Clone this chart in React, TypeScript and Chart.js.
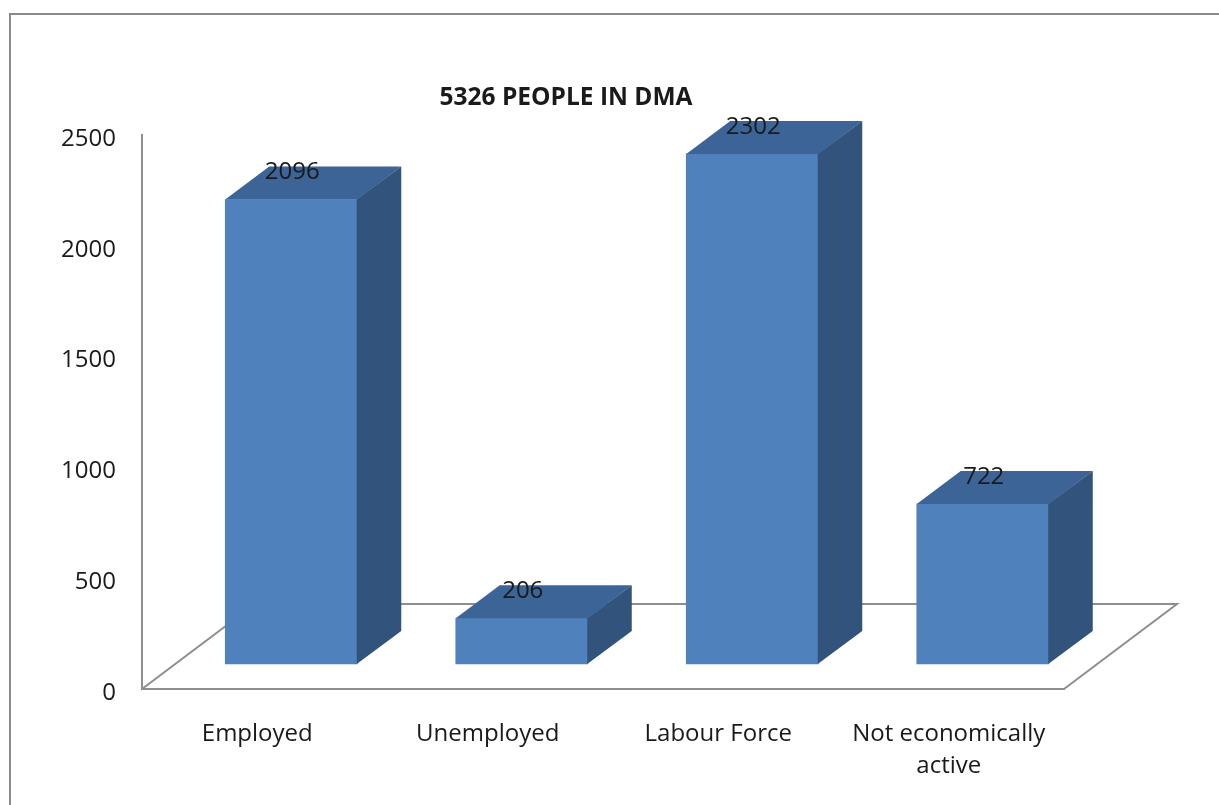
import React, { useEffect, useRef } from 'react';
import { Chart, registerables } from 'chart.js';

Chart.register(...registerables);

// ---- data ----
const categories: (string | string[])[] = ['Employed', 'Unemployed', 'Labour Force', ['Not economically', 'active']];
const values: number[] = [2096, 206, 2302, 722];
const yMin = 0;
const yMax = 2500;
const yStep = 500;
const titleText = '5326 PEOPLE IN DMA';

// ---- style / geometry ----
const W = 1219;
const H = 805;
const FONT = "'Open Sans', 'Liberation Sans', sans-serif";
const FRONT = '#4F81BD';
const TOP = '#3C6496';
const SIDE = '#31537C';
const LINE = '#8E8E8E';
const TEXT = '#1a1a1a';

const PLOT = { left: 142, right: 1064, top: 135, bottom: 689 };
const FLOOR_DEPTH = { dx: 113, dy: -85 };
const BAR_SHIFT = { dx: 34, dy: -25 };
const BAR_DEPTH = { dx: 44, dy: -33 };
const BAR_WIDTH = 132;
const PAD_LEFT = 50;
const RIGHT_SPACER = 18;
const Y_AXIS_W = PLOT.left - PAD_LEFT;
const X_AXIS_H = 92;

const catCount = categories.length;
const pxPerCat = (PLOT.right - PLOT.left) / catCount;
const pxPerUnit = (PLOT.bottom - PLOT.top) / (yMax - yMin);
const xbMin = -0.5 - BAR_SHIFT.dx / pxPerCat;
const xbMax = xbMin + catCount;
const ybMin = yMin + BAR_SHIFT.dy / pxPerUnit;
const ybMax = ybMin + (yMax - yMin);

function poly(ctx: CanvasRenderingContext2D, pts: number[][], color: string) {
  ctx.beginPath();
  ctx.moveTo(pts[0][0], pts[0][1]);
  for (let i = 1; i < pts.length; i++) ctx.lineTo(pts[i][0], pts[i][1]);
  ctx.closePath();
  ctx.fillStyle = color;
  ctx.fill();
}

const frame3d = {
  id: 'frame3d',
  beforeDraw(chart: any) {
    const ctx = chart.ctx as CanvasRenderingContext2D;
    ctx.save();
    ctx.strokeStyle = '#8A8A8A';
    ctx.lineWidth = 2;
    ctx.beginPath();
    ctx.moveTo(10, chart.height + 10);
    ctx.lineTo(10, 14);
    ctx.lineTo(chart.width + 10, 14);
    ctx.stroke();
    ctx.restore();
  },
  beforeDatasetsDraw(chart: any) {
    const ctx = chart.ctx as CanvasRenderingContext2D;
    const a = chart.chartArea;
    ctx.save();
    ctx.strokeStyle = LINE;
    ctx.lineWidth = 2;
    ctx.beginPath();
    ctx.moveTo(a.left, a.bottom);
    ctx.lineTo(a.left + FLOOR_DEPTH.dx, a.bottom + FLOOR_DEPTH.dy);
    ctx.lineTo(a.right + FLOOR_DEPTH.dx, a.bottom + FLOOR_DEPTH.dy);
    ctx.lineTo(a.right, a.bottom);
    ctx.stroke();
    ctx.restore();
  },
  afterDatasetsDraw(chart: any) {
    const ctx = chart.ctx as CanvasRenderingContext2D;
    const meta = chart.getDatasetMeta(0);
    const { dx, dy } = BAR_DEPTH;
    ctx.save();
    meta.data.forEach((bar: any) => {
      const { x, y, base, width } = bar.getProps(['x', 'y', 'base', 'width'], true);
      const l = x - width / 2;
      const r = x + width / 2;
      poly(ctx, [[l, y], [l + dx, y + dy], [r + dx, y + dy], [r, y]], TOP);
      poly(ctx, [[r - 0.5, y], [r + dx, y + dy], [r + dx, base + dy], [r - 0.5, base]], SIDE);
    });
    ctx.fillStyle = TEXT;
    ctx.font = `24px ${FONT}`;
    ctx.textAlign = 'center';
    ctx.textBaseline = 'middle';
    meta.data.forEach((bar: any, i: number) => {
      const { x, y } = bar.getProps(['x', 'y'], true);
      ctx.fillText(String(values[i]), x + 1, y - 27);
    });
    ctx.restore();
  },
};

export default function App() {
  const ref = useRef<HTMLCanvasElement | null>(null);
  useEffect(() => {
    if (!ref.current) return;
    const chart = new Chart(ref.current, {
      type: 'bar',
      data: {
        labels: categories as any,
        datasets: [
          {
            data: values.map((v, i) => ({ x: i, y: v })) as any,
            backgroundColor: FRONT,
            borderWidth: 0,
            xAxisID: 'xb',
            yAxisID: 'yb',
            barThickness: BAR_WIDTH,
          } as any,
        ],
      },
      options: {
        responsive: false,
        animation: false,
        events: [],
        layout: {
          padding: {
            left: PAD_LEFT,
            right: W - PLOT.right - RIGHT_SPACER,
            top: 86,
            bottom: H - PLOT.bottom - X_AXIS_H,
          },
        },
        plugins: {
          legend: { display: false },
          tooltip: { enabled: false },
          title: {
            display: true,
            text: titleText,
            color: TEXT,
            font: { family: FONT, size: 24.5, weight: 'bold', lineHeight: 1 },
            padding: { top: 0, bottom: 24.5 },
          },
        },
        scales: {
          x: {
            type: 'category',
            position: 'bottom',
            offset: true,
            grid: { display: false },
            border: { display: true, color: LINE, width: 2 },
            ticks: {
              color: TEXT,
              font: { family: FONT, size: 24, lineHeight: 32 / 24 },
              padding: 21,
              maxRotation: 0,
              autoSkip: false,
            },
            afterFit: (s: any) => { s.height = X_AXIS_H; },
          },
          y: {
            type: 'linear',
            position: 'left',
            min: yMin,
            max: yMax,
            grid: { display: false },
            border: { display: true, color: LINE, width: 2 },
            ticks: {
              stepSize: yStep,
              color: TEXT,
              font: { family: FONT, size: 24 },
              padding: 18,
              labelOffset: 4,
              callback: (v: any) => String(v),
            },
            afterFit: (s: any) => { s.width = Y_AXIS_W; },
          },
          yr: {
            type: 'linear',
            position: 'right',
            min: 0,
            max: 1,
            grid: { display: false },
            border: { display: false },
            ticks: { display: false },
            afterFit: (s: any) => { s.width = RIGHT_SPACER; },
          },
          xb: { type: 'linear', position: 'bottom', display: false, min: xbMin, max: xbMax, offset: false },
          yb: { type: 'linear', position: 'left', display: false, min: ybMin, max: ybMax },
        },
      } as any,
      plugins: [frame3d],
    });
    return () => chart.destroy();
  }, []);
  return (
    <div style={{ position: 'absolute', left: 0, top: 0, width: W, height: H, background: '#fff' }}>
      <canvas ref={ref} width={W} height={H} style={{ display: 'block' }} />
    </div>
  );
}
